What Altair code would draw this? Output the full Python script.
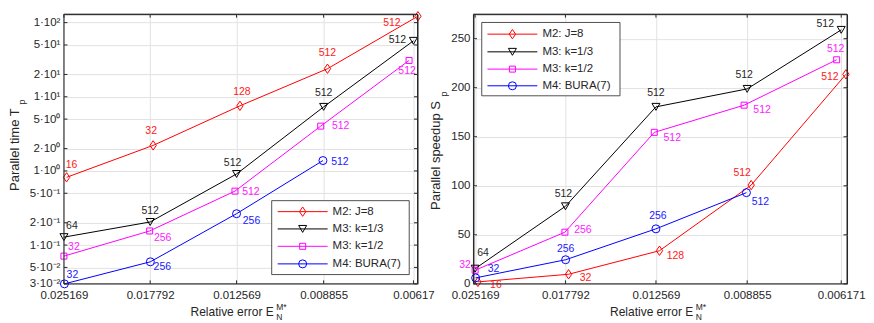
import altair as alt
import pandas as pd

# ---------------- data ----------------
methods = ["M2: J=8", "M3: k=1/3", "M3: k=1/2", "M4: BURA(7)"]

err_m2 = [0.0249, 0.01758, 0.0124, 0.00872, 0.00606]
err_m3a = [0.025169, 0.017792, 0.012569, 0.008855, 0.006171]
err_m3b = [0.02517, 0.01783, 0.01265, 0.00896, 0.00628]
err_m4 = [0.02512, 0.01778, 0.01257, 0.00888]

tp_m2 = [0.82, 2.21, 7.55, 23.9, 122]
tp_m3a = [0.128, 0.205, 0.91, 7.31, 56.8]
tp_m3b = [0.071, 0.155, 0.534, 4.02, 30.9]
tp_m4 = [0.030, 0.0595, 0.265, 1.38]

sp_m2 = [2.0, 9.8, 33.8, 100.7, 213.7]
sp_m3a = [15.5, 79.1, 180.5, 198.8, 259]
sp_m3b = [13.9, 52.7, 154.5, 182.2, 228.5]
sp_m4 = [6.1, 24.6, 56.1, 93]

procs_m2 = [16, 32, 128, 512, 512]
procs_m3a = [64, 512, 512, 512, 512]
procs_m3b = [32, 256, 512, 512, 512]
procs_m4 = [32, 256, 256, 512]

xticks_left = [0.025169, 0.017792, 0.012569, 0.008855, 0.00617]
xticks_right = [0.025169, 0.017792, 0.012569, 0.008855, 0.006171]
yticks_left = [0.03, 0.05, 0.1, 0.2, 0.5, 1, 2, 5, 10, 20, 50, 100]
ylabels_left = ["3·10⁻²", "5·10⁻²", "1·10⁻¹", "2·10⁻¹", "5·10⁻¹", "1·10⁰",
                "2·10⁰", "5·10⁰", "1·10¹", "2·10¹", "5·10¹", "1·10²"]
yticks_right = [0, 50, 100, 150, 200, 250]

errs = [err_m2, err_m3a, err_m3b, err_m4]
tps = [tp_m2, tp_m3a, tp_m3b, tp_m4]
sps = [sp_m2, sp_m3a, sp_m3b, sp_m4]
procs = [procs_m2, procs_m3a, procs_m3b, procs_m4]

# ---------------- style ----------------
FONT = "Liberation Sans"
TXT = "#262626"
GRID = "#e2e2e2"
DIAMOND = "M0,-1.25L0.85,0L0,1.25L-0.85,0Z"
colors = ["#ff0000", "#000000", "#ff00ff", "#0000ff"]
label_colors = ["#ff2020", "#262626", "#ff20ff", "#2020ff"]
shapes = [DIAMOND, "triangle-down", "square", "circle"]
sizes = [56, 64, 36, 64]

offsets_left = [
    [(5, -12), (-2, -14), (2, -14), (0, -16), (-26, 7)],
    [(8, -11), (0, -11), (-4, -11), (0, -14), (-16, -1)],
    [(10, -9), (13, 7), (16, 1), (20, 0), (-2, 11)],
    [(8, -9), (12, 5), (15, 7), (17, 1)],
]
offsets_right = [
    [(18, 3), (17, 4), (16, 5), (-9, -12), (-16, 3)],
    [(8, -16), (-2, -12), (0, -14), (-3, -14), (-16, -6)],
    [(-10, -5), (18, -2), (18, 6), (18, 5), (-1, -11)],
    [(18, -9), (0, -11), (2, -13), (14, 9)],
]

one = pd.DataFrame({"a": [0]})


def text_at(x, y, t, size=12, angle=0, align="left", color=TXT):
    kw = dict(fontSize=size, align=align, baseline="middle", color=color, font=FONT)
    if angle:
        kw["angle"] = angle
    return alt.Chart(one).mark_text(**kw).encode(
        x=alt.value(x), y=alt.value(y), text=alt.value(t))


def make_panel(yvals, W, H, xdom, xticks, yscale, yaxis, yticks, offsets, legend,
               ytitle, ytitle_pos, p_pos):
    xs = alt.Scale(type="log", domain=xdom, reverse=True, nice=False)
    xaxis = alt.Axis(values=xticks, format=".6~f", title=None, grid=True,
                     gridColor=GRID, gridWidth=1, domain=False, ticks=False,
                     tickSize=0, labelPadding=6, labelFlush=False,
                     labelOverlap=False, labelFontSize=11.5, labelColor=TXT,
                     labelFont=FONT)

    def X(f):
        return alt.X(f, scale=xs, axis=xaxis)

    def Y(f):
        return alt.Y(f, scale=yscale, axis=yaxis)

    layers = []
    for i in range(4):
        df = pd.DataFrame({"e": errs[i], "v": yvals[i], "n": procs[i]})
        layers.append(alt.Chart(df).mark_line(color=colors[i], strokeWidth=1)
                      .encode(x=X("e:Q"), y=Y("v:Q")))
        layers.append(alt.Chart(df).mark_point(shape=shapes[i], size=sizes[i],
                                               filled=False, strokeWidth=1,
                                               color=colors[i], opacity=1)
                      .encode(x=X("e:Q"), y=Y("v:Q")))
        for j in range(len(errs[i])):
            dx, dy = offsets[i][j]
            layers.append(alt.Chart(df.iloc[[j]]).mark_text(
                dx=dx, dy=dy, fontSize=10.5, color=label_colors[i], font=FONT,
                align="center", baseline="middle")
                .encode(x=X("e:Q"), y=Y("v:Q"), text="n:N"))
    # inward ticks (box style)
    xt = pd.DataFrame({"e": xticks})
    yt = pd.DataFrame({"v": yticks})
    tk = 3.5
    for (a, b) in [(H - tk, H), (0, tk)]:
        layers.append(alt.Chart(xt).mark_rule(color=TXT, strokeWidth=1).encode(
            x=X("e:Q"), y=alt.value(a), y2=alt.value(b)))
    for (a, b) in [(0, tk), (W - tk, W)]:
        layers.append(alt.Chart(yt).mark_rule(color=TXT, strokeWidth=1).encode(
            y=Y("v:Q"), x=alt.value(a), x2=alt.value(b)))
    # frame
    layers.append(alt.Chart(one).mark_rect(fill=None, stroke=TXT, strokeWidth=1)
                  .encode(x=alt.value(0), x2=alt.value(W),
                          y=alt.value(0), y2=alt.value(H)))
    # legend
    bx0, bx1, by0, by1, ey, lx0, lx1, mx, tx = legend
    layers.append(alt.Chart(one).mark_rect(fill="white", stroke=TXT, strokeWidth=0.8)
                  .encode(x=alt.value(bx0), x2=alt.value(bx1),
                          y=alt.value(by0), y2=alt.value(by1)))
    for i in range(4):
        layers.append(alt.Chart(one).mark_rule(color=colors[i], strokeWidth=1).encode(
            x=alt.value(lx0), x2=alt.value(lx1), y=alt.value(ey[i])))
        layers.append(alt.Chart(one).mark_point(shape=shapes[i], size=sizes[i],
                                                filled=False, strokeWidth=1,
                                                color=colors[i], opacity=1)
                      .encode(x=alt.value(mx), y=alt.value(ey[i])))
        layers.append(text_at(tx, ey[i], methods[i], size=11.5))
    # axis titles
    layers.append(text_at(ytitle_pos[0], ytitle_pos[1], ytitle, size=13, angle=270))
    layers.append(text_at(p_pos[0], p_pos[1], "p", size=9.5, angle=270, align="center"))
    cx = W / 2 + 33
    layers.append(text_at(cx, H + 28, "Relative error E", size=12, align="right"))
    layers.append(text_at(cx + 2.5, H + 23, "M*", size=8.5))
    layers.append(text_at(cx + 2.5, H + 33.5, "N", size=8.5))
    return alt.layer(*layers).properties(width=W, height=H)


# left: parallel time (log)
WL, HL = 354, 270
ys_left = alt.Scale(type="log", domain=[0.03, 130], nice=False)
expr = ""
for v, t in zip(yticks_left, ylabels_left):
    expr += f"abs(datum.value - {v}) < {v / 100} ? '{t}' : "
expr += "''"
yaxis_left = alt.Axis(values=yticks_left, labelExpr=expr, title=None, grid=True,
                      gridColor=GRID, gridWidth=1, domain=False, ticks=False,
                      tickSize=0, labelPadding=4, labelOverlap=False,
                      labelFontSize=11.5, labelColor=TXT, labelFont=FONT)
legend_left = (WL - 146, WL - 8.3, HL - 83.3, HL - 9.3,
               [HL - 72.3, HL - 55, HL - 37.6, HL - 20],
               WL - 140, WL - 90, WL - 115, WL - 85)
left = make_panel(tps, WL, HL, [0.00607, 0.025169], xticks_left, ys_left,
                  yaxis_left, yticks_left, offsets_left, legend_left,
                  "Parallel time T", (-49, 177), (-42, 88))

# right: parallel speedup (linear)
WR, HR = 374, 270
ys_right = alt.Scale(type="linear", domain=[0, 275], nice=False, zero=False)
yaxis_right = alt.Axis(values=yticks_right, format="d", title=None, grid=True,
                       gridColor=GRID, gridWidth=1, domain=False, ticks=False,
                       tickSize=0, labelPadding=3.5, labelOverlap=False,
                       labelFontSize=11.5, labelColor=TXT, labelFont=FONT)
legend_right = (8.3, 146.7, 8.3, 81.7, [20, 37.7, 55, 71.7], 14, 64, 39, 69)
right = make_panel(sps, WR, HR, [0.006035, 0.02533], xticks_right, ys_right,
                   yaxis_right, yticks_right, offsets_right, legend_right,
                   "Parallel speedup S", (-37, 196), (-29, 80))

chart = alt.hconcat(left, right, spacing=56, bounds="flush", padding=0).configure(
    font=FONT).configure_view(stroke=TXT, strokeWidth=1)

chart.save("out.html", embed_options={"renderer": "svg", "actions": False})
